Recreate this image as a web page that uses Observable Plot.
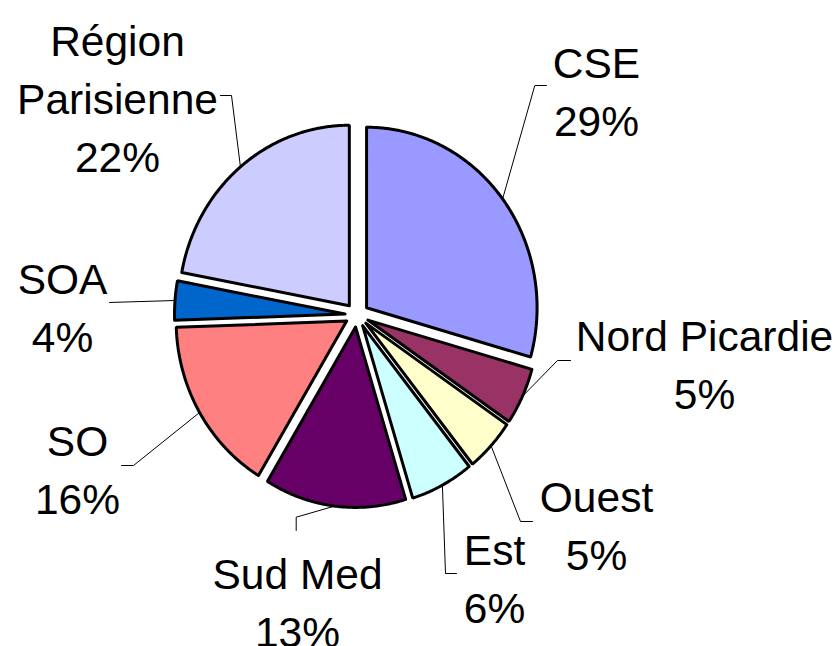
<!DOCTYPE html>
<html>
<head>
<meta charset="utf-8">
<script src="https://cdn.jsdelivr.net/npm/d3@7"></script>
<script src="https://cdn.jsdelivr.net/npm/@observablehq/plot@0.6"></script>
<style>
  html, body { margin: 0; padding: 0; background: #ffffff; }
  #chart svg { display: block; }
</style>
</head>
<body>
<div id="chart"></div>
<script>
// ---- data ----
const regions = ["CSE", "Nord Picardie", "Ouest", "Est", "Sud Med", "SO", "SOA", "Région Parisienne"];
const shares = [29.4, 5.1, 4.75, 6.0, 13.4, 15.8, 3.5, 22.05];
const percentLabels = ["29%", "5%", "5%", "6%", "13%", "16%", "4%", "22%"];
const sliceColors = ["#9999FF", "#993366", "#FFFFCC", "#CCFFFF", "#660066", "#FF8080", "#0066CC", "#CCCCFF"];

// ---- layout (pixel space of the plot) ----
const W = 837, H = 646;
const pie = { cx: 356.5, cy: 314.5, rx: 170.5, ry: 180.5, explode: 12 };
const labelText = ["CSE", "Nord Picardie", "Ouest", "Est", "Sud Med", "SO", "SOA", "Région\nParisienne"];
const labelPos = [[596, 87.6], [704, 360.6], [596, 522], [494, 574.6], [297, 598.6], [77, 466], [62, 303.6], [117, 94.6]];
const leaderBend = [[[534.3, 85], [546, 85]], [[557, 360], [570, 360]], [[520, 521], [532, 521]],
                    [[445, 573], [456, 573]], [[295.7, 516.7], [295.7, 530]], [[133, 465], [121, 465]],
                    [[109, 302]], [[231, 95], [220, 95]]];

// ---- geometry from values ----
const total = d3.sum(shares);
let acc = 0;
const slices = regions.map((r, i) => {
  const a0 = acc / total * 2 * Math.PI;
  acc += shares[i];
  const a1 = acc / total * 2 * Math.PI;
  const am = (a0 + a1) / 2;
  const ox = pie.cx + pie.explode * Math.sin(am);
  const oy = pie.cy - pie.explode * Math.cos(am);
  return { region: r, a0, a1, am, ox, oy };
});

const slicePts = [];
for (const s of slices) {
  const n = Math.max(4, Math.ceil((s.a1 - s.a0) / (Math.PI / 360)));
  slicePts.push({ region: s.region, x: s.ox, y: s.oy });
  for (let k = 0; k <= n; k++) {
    const a = s.a0 + (s.a1 - s.a0) * k / n;
    slicePts.push({ region: s.region, x: s.ox + pie.rx * Math.sin(a), y: s.oy - pie.ry * Math.cos(a) });
  }
  slicePts.push({ region: s.region, x: s.ox, y: s.oy });
  slicePts.push({ region: s.region, x: s.ox + pie.rx * Math.sin(s.a0), y: s.oy - pie.ry * Math.cos(s.a0) });
}

const leaderPts = [];
slices.forEach((s, i) => {
  leaderPts.push({ region: s.region, x: s.ox + pie.rx * Math.sin(s.am), y: s.oy - pie.ry * Math.cos(s.am) });
  for (const p of leaderBend[i]) leaderPts.push({ region: s.region, x: p[0], y: p[1] });
});

const labels = regions.map((r, i) => ({
  region: r, x: labelPos[i][0], y: labelPos[i][1],
  text: labelText[i] + "\n" + percentLabels[i]
}));

const chart = Plot.plot({
  width: W,
  height: H,
  margin: 0,
  x: { domain: [0, W], range: [0, W], axis: null },
  y: { domain: [0, H], range: [0, H], axis: null },
  color: { domain: regions, range: sliceColors },
  style: { background: "#ffffff" },
  marks: [
    Plot.line(leaderPts, { x: "x", y: "y", z: "region", stroke: "#000000", strokeWidth: 1, curve: "linear" }),
    Plot.line(slicePts, { x: "x", y: "y", z: "region", fill: "region", stroke: "#000000", strokeWidth: 3, strokeLinejoin: "miter", curve: "linear" }),
    Plot.text(labels, {
      x: "x", y: "y", text: "text", fontSize: 42.5, lineHeight: 1.365,
      fontFamily: "'Liberation Sans', Arial, sans-serif", fill: "#000000", textAnchor: "middle"
    })
  ]
});
document.getElementById("chart").appendChild(chart);
</script>
</body>
</html>
